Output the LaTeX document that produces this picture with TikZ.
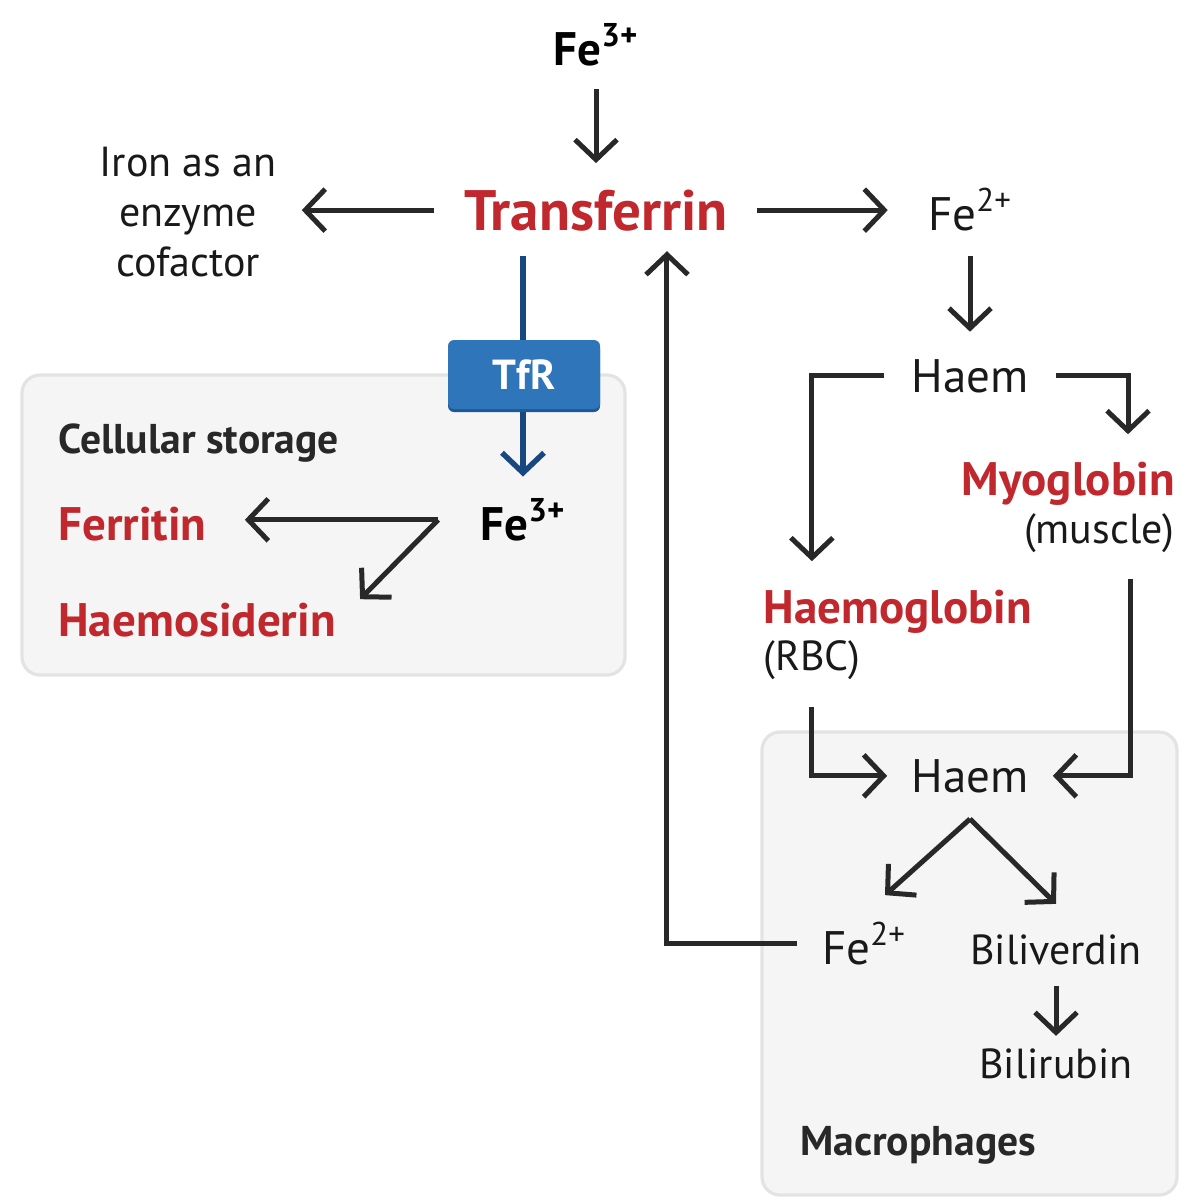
\documentclass[tikz,border=0pt]{standalone}
\usepackage{fontspec}
\setmainfont{PT Sans}
\usetikzlibrary{arrows.meta,positioning}

\definecolor{ironred}{RGB}{192,40,45}
\definecolor{ink}{RGB}{40,40,40}
\definecolor{textblack}{RGB}{25,25,25}
\definecolor{panelfill}{RGB}{244,245,244}
\definecolor{panelline}{RGB}{226,227,226}
\definecolor{tfrblue}{RGB}{46,117,186}
\definecolor{tfrdark}{RGB}{30,88,150}
\definecolor{tfrline}{RGB}{24,72,128}

\tikzset{
  txt/.style={inner sep=0pt, text=textblack, font=\fontsize{21}{25}\selectfont},
  haemtxt/.style={txt, font=\fontsize{23.5}{28}\selectfont},
  boldtxt/.style={txt, text=black, font=\bfseries\fontsize{23.5}{28}\selectfont},
  headtxt/.style={txt, text=ink, font=\bfseries\fontsize{20.8}{25}\selectfont},
  redtxt/.style={txt, text=ironred, font=\bfseries\fontsize{23.5}{28}\selectfont},
  arr/.style={draw=ink, line width=2.5pt, -{Straight Barb[length=10pt,width=21pt,sharp]}},
  tfrarr/.style={arr, draw=tfrline, line width=2.7pt},
  panel/.style={fill=panelfill, draw=panelline, line width=1.6pt, rounded corners=9pt},
  tfrbox/.style={fill=tfrblue, text=white, rounded corners=3pt, inner sep=0pt,
    minimum width=76pt, minimum height=34.5pt, font=\bfseries\fontsize{21}{25}\selectfont,
    preaction={fill=tfrdark, transform canvas={yshift=-1.5pt}}}
}

\begin{document}
\begin{tikzpicture}[x=0.5pt,y=-0.5pt]
  \useasboundingbox (0,0) rectangle (1200,1200);

  % grey panels
  \draw[panel] (22,375) rectangle (625,675);
  \draw[panel] (762,732) rectangle (1177,1195);

  % plasma
  \node[boldtxt, anchor=base] (fetop) at (596,65) {Fe\textsuperscript{3+}};
  \node[redtxt, font=\bfseries\fontsize{28.5}{32}\selectfont, anchor=base] (trans) at (596,230) {Transferrin};
  \node[txt, align=center] (iron) at (188,212) {Iron as an\\enzyme\\cofactor};
  \node[haemtxt, anchor=base] (fe2a) at (970,230) {Fe\textsuperscript{2+}};
  \node[haemtxt, anchor=base] (haemA) at (970,392) {Haem};
  \node[redtxt, anchor=base east] (myo) at (1175,495) {Myoglobin};
  \node[txt, anchor=base east] (muscle) at (1175,543) {(muscle)};
  \node[redtxt, anchor=base west] (hgb) at (763,623) {Haemoglobin};
  \node[txt, anchor=base west] (rbc) at (763,670) {(RBC)};

  % macrophages
  \node[haemtxt, anchor=base] (haemB) at (970,792) {Haem};
  \node[haemtxt, anchor=base] (fe2b) at (864,964) {Fe\textsuperscript{2+}};
  \node[txt, anchor=base] (biliv) at (1056,964) {Biliverdin};
  \node[txt, anchor=base] (bilir) at (1056,1078) {Bilirubin};
  \node[headtxt, anchor=base west] (macro) at (800,1155) {Macrophages};

  % cellular storage
  \node[headtxt, anchor=base west] (cell) at (58,453) {Cellular storage};
  \node[redtxt, anchor=base west] (ferritin) at (58,540) {Ferritin};
  \node[redtxt, anchor=base west] (haemosid) at (58,636) {Haemosiderin};
  \node[boldtxt, anchor=base] (fe3b) at (523,540) {Fe\textsuperscript{3+}};

  % arrows
  \draw[arr, shorten <=11.5pt, shorten >=13pt] (fetop.south) -- (trans.north);
  \draw[arr, shorten <=15pt, shorten >=12.5pt] (trans.west) -- (iron.east |- trans.west);
  \draw[arr, shorten <=14.5pt, shorten >=20pt] (trans.east) -- (fe2a.west |- trans.east);
  \draw[arr, shorten <=12.5pt, shorten >=13.5pt] (fe2a.south) -- (haemA.north);
  \draw[arr, shorten <=13.5pt, shorten >=14pt] (haemA.west) -| (rbc.north |- hgb.north);
  \draw[arr, shorten <=13.5pt, shorten >=13.5pt] (haemA.east) -| ([xshift=-23.5pt]myo.north east);
  \draw[arr, shorten <=13.5pt, shorten >=12pt] (rbc.south) |- (haemB.west);
  \draw[arr, shorten <=13pt, shorten >=12pt] ([xshift=-22.5pt]muscle.south east) |- (haemB.east);
  \draw[arr] ([yshift=-13pt]haemB.south) -- ([xshift=10.5pt,yshift=13.5pt]fe2b.north);
  \draw[arr] ([yshift=-13pt]haemB.south) -- ([yshift=15pt]biliv.north);
  \draw[arr, shorten <=10.5pt, shorten >=6pt] (biliv.south) -- (bilir.north);
  \draw[arr, shorten <=12.5pt, shorten >=10pt] (fe2b.west) -| ([xshift=-30.5pt]trans.south east);

  % receptor
  \draw[tfrarr, shorten <=12.5pt, shorten >=11pt] (trans.south -| fe3b.north) -- (fe3b.north);
  \node[tfrbox] (tfr) at (524,374.5) {TfR};

  \coordinate (split) at ([xshift=-21pt]fe3b.west);
  \draw[arr, shorten >=19pt] (split) -- (ferritin.east |- split);
  \draw[arr] (split) -- ([xshift=12pt,yshift=1.5pt]haemosid.north east);
\end{tikzpicture}
\end{document}
